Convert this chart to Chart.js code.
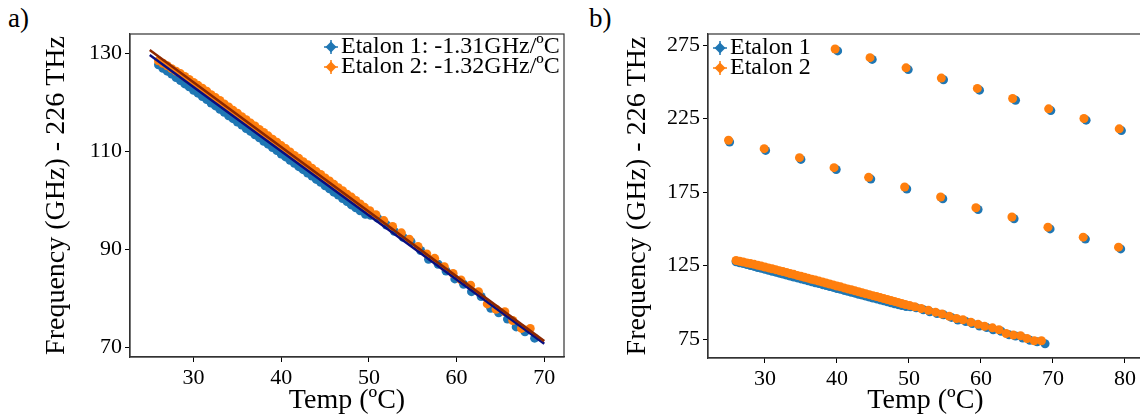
<!DOCTYPE html>
<html>
<head>
<meta charset="utf-8">
<script src="https://cdn.jsdelivr.net/npm/chart.js@4.4.0/dist/chart.umd.min.js"></script>
<style>
  html, body { margin: 0; padding: 0; background: #fff; overflow: hidden; width: 1140px; height: 417px; }
  .panel { position: absolute; top: 0; }
  .tag { position: absolute; top: 4px; font: 27px "Liberation Serif", "Times New Roman", serif; color: #000; line-height: 28px; }
</style>
</head>
<body>
<div class="tag" style="left:8px">a)</div>
<div class="tag" style="left:589px">b)</div>
<div class="panel" style="left:0;width:570px;height:417px"><canvas id="chartA" width="570" height="417"></canvas></div>
<div class="panel" style="left:570px;width:600px;height:417px"><canvas id="chartB" width="600" height="417"></canvas></div>
<script>
// main mode, etalon 1 (dense scan, then sparse points)
const e1Temp = [26.0, 26.5, 27.0, 27.5, 28.0, 28.5, 29.0, 29.5, 30.0, 30.5, 31.0, 31.5, 32.0, 32.5,
  33.0, 33.5, 34.0, 34.5, 35.0, 35.5, 36.0, 36.5, 37.0, 37.5, 38.0, 38.5, 39.0, 39.5, 40.0, 40.5,
  41.0, 41.5, 42.0, 42.5, 43.0, 43.5, 44.0, 44.5, 45.0, 45.5, 46.0, 46.5, 47.0, 47.5, 48.0, 48.5, 49.0, 49.6, 50.2,
  51.0, 52.0, 52.9, 53.9, 54.8, 55.9, 56.8, 57.9, 58.8, 59.8, 60.8, 61.7, 62.8, 63.9, 64.8, 65.8, 66.8, 67.8, 68.9];
const e1Freq = [127.6, 126.9, 126.3, 125.7, 125.0, 124.4, 123.7, 123.1, 122.4, 121.8, 121.1, 120.5, 119.8, 119.2,
  118.5, 117.9, 117.2, 116.6, 115.9, 115.3, 114.6, 114.0, 113.3, 112.7, 112.0, 111.4, 110.7, 110.1, 109.4, 108.8,
  108.1, 107.5, 106.8, 106.2, 105.5, 104.9, 104.2, 103.6, 102.9, 102.3, 101.6, 101.0, 100.3, 99.7, 99.0, 98.4, 97.8, 97.1, 96.9,
  96.3, 94.9, 93.6, 92.4, 91.5, 89.7, 87.9, 86.9, 85.5, 83.9, 82.8, 81.3, 80.3, 77.9, 77.0, 75.7, 74.1, 73.1, 71.8];

// main mode, etalon 2
const e2Temp = [26.0, 26.5, 27.0, 27.5, 28.0, 28.5, 29.0, 29.5, 30.0, 30.5, 31.0, 31.5, 32.0, 32.5,
  33.0, 33.5, 34.0, 34.5, 35.0, 35.5, 36.0, 36.5, 37.0, 37.5, 38.0, 38.5, 39.0, 39.5, 40.0, 40.5,
  41.0, 41.5, 42.0, 42.5, 43.0, 43.5, 44.0, 44.5, 45.0, 45.5, 46.0, 46.5, 47.0, 47.5, 48.0, 48.5, 49.0, 49.5, 50.1,
  50.8, 51.7, 52.7, 53.7, 54.6, 55.6, 56.6, 57.5, 58.6, 59.6, 60.5, 61.6, 62.5, 63.5, 64.5, 65.5, 66.4, 67.4, 68.4];
const e2Freq = [128.4, 127.9, 127.4, 126.8, 126.3, 125.8, 125.2, 124.6, 124.0, 123.4, 122.8, 122.2, 121.5, 120.9,
  120.3, 119.6, 119.0, 118.3, 117.7, 117.0, 116.4, 115.7, 115.1, 114.4, 113.8, 113.1, 112.4, 111.8, 111.1, 110.5,
  109.8, 109.1, 108.5, 107.8, 107.2, 106.5, 105.8, 105.2, 104.5, 103.9, 103.2, 102.5, 101.9, 101.2, 100.6, 99.9, 99.2, 98.5, 97.8,
  97.0, 95.8, 94.6, 93.3, 92.0, 90.5, 89.0, 88.1, 86.4, 85.0, 83.7, 82.6, 81.3, 78.8, 77.7, 77.2, 75.4, 73.8, 73.8];

// linear fits (panel a)
const fitTemp = [25, 70];
const fit1 = [129.6, 70.65];
const fit2 = [130.6, 71.2];

// other modes (panel b)
const mid1Temp = [25.1, 30.1, 35.0, 39.9, 44.7, 49.7, 54.7, 59.6, 64.6, 69.6, 74.5, 79.4];
const mid1Freq = [209.0, 203.3, 197.2, 190.3, 183.8, 177.1, 170.4, 163.1, 156.8, 149.9, 143.0, 136.3];
const mid2Temp = [24.95, 29.9, 34.8, 39.6, 44.4, 49.4, 54.4, 59.3, 64.3, 69.3, 74.2, 79.1];
const mid2Freq = [210.2, 204.5, 198.4, 191.6, 185.0, 178.4, 171.6, 164.3, 158.0, 151.1, 144.3, 137.5];
const top1Temp = [40.1, 44.9, 49.9, 54.8, 59.8, 64.8, 69.7, 74.6, 79.5];
const top1Freq = [271.0, 265.2, 258.3, 251.4, 244.3, 237.4, 230.4, 223.9, 216.8];
const top2Temp = [39.75, 44.6, 49.6, 54.5, 59.5, 64.4, 69.4, 74.3, 79.2];
const top2Freq = [272.3, 266.4, 259.5, 252.5, 245.5, 238.6, 231.6, 225.0, 218.0];

const xTicksA = [30, 40, 50, 60, 70];
const yTicksA = [70, 90, 110, 130];
const xTicksB = [30, 40, 50, 60, 70, 80];
const yTicksB = [75, 125, 175, 225, 275];

const BLUE = "#1f77b4";
const ORANGE = "#ff7f0e";
const SERIF = '"Liberation Serif", "Times New Roman", serif';

const pts = (xs, ys) => xs.map((x, i) => ({ x, y: ys[i] }));

const framePlugin = {
  id: "frame",
  afterDatasetsDraw(chart) {
    const { ctx, chartArea: a } = chart;
    ctx.save();
    ctx.strokeStyle = "#333";
    ctx.lineWidth = 1.2;
    ctx.strokeRect(a.left, a.top, a.right - a.left, a.bottom - a.top);
    ctx.restore();
  },
};

function drawMarker(ctx, x, y, color) {
  ctx.fillStyle = color;
  ctx.strokeStyle = color;
  ctx.beginPath();
  ctx.moveTo(x, y - 5.5);
  ctx.lineTo(x + 5.5, y);
  ctx.lineTo(x, y + 5.5);
  ctx.lineTo(x - 5.5, y);
  ctx.closePath();
  ctx.fill();
  ctx.lineWidth = 1.5;
  ctx.beginPath();
  ctx.moveTo(x - 7, y);
  ctx.lineTo(x + 7, y);
  ctx.moveTo(x, y - 7);
  ctx.lineTo(x, y + 7);
  ctx.stroke();
}

const legendPlugin = {
  id: "cornerLegend",
  afterDraw(chart, args, opts) {
    const ctx = chart.ctx;
    ctx.save();
    ctx.font = `24px ${SERIF}`;
    ctx.textBaseline = "middle";
    ctx.textAlign = "left";
    opts.items.forEach((item, i) => {
      const y = opts.y + i * opts.gap;
      drawMarker(ctx, opts.x, y, item.color);
      ctx.fillStyle = "#000";
      ctx.fillText(item.text, opts.x + 10, y);
    });
    ctx.restore();
  },
};

function axis(min, max, ticks, title, fit, titlePad) {
  return {
    type: "linear",
    min,
    max,
    afterBuildTicks: (s) => { s.ticks = ticks.map((v) => ({ value: v })); },
    afterFit: fit,
    grid: { display: true, drawOnChartArea: false, drawTicks: true, tickLength: 5, color: "#000" },
    border: { display: true, color: "#333", width: 1.2 },
    ticks: { color: "#000", font: { family: SERIF, size: 22 }, padding: 3, maxRotation: 0 },
    title: { display: true, text: title, color: "#000", font: { family: SERIF, size: 28 }, padding: titlePad },
  };
}

const scatter = (label, data, color, order) => ({
  label, data, order,
  backgroundColor: color,
  pointRadius: 4.5,
  pointBorderWidth: 0,
  pointHoverRadius: 4.5,
});

function drawCharts() {
  new Chart(document.getElementById("chartA"), {
    type: "scatter",
    data: {
      datasets: [
        scatter("Etalon 1", pts(e1Temp, e1Freq), BLUE, 3),
        scatter("Etalon 2", pts(e2Temp, e2Freq), ORANGE, 2),
        { type: "line", label: "fit 1", data: pts(fitTemp, fit1), borderColor: "#0a0f80", borderWidth: 2.5, pointRadius: 0, order: 1 },
        { type: "line", label: "fit 2", data: pts(fitTemp, fit2), borderColor: "#8c2800", borderWidth: 2.5, pointRadius: 0, order: 0 },
      ],
    },
    options: {
      responsive: false,
      animation: false,
      events: [],
      layout: { padding: { left: 0, right: 6, top: 34, bottom: 0 } },
      scales: {
        x: axis(22.75, 72.25, xTicksA, "Temp (ºC)", (s) => { s.height = 60; }, { top: 0, bottom: 0 }),
        y: axis(67.96, 133.88, yTicksA, "Frequency (GHz) - 226 THz", (s) => { s.width = 130; }, { top: 40, bottom: 0 }),
      },
      plugins: {
        legend: { display: false },
        tooltip: { enabled: false },
        cornerLegend: {
          x: 331, y: 47, gap: 20,
          items: [
            { text: "Etalon 1: -1.31GHz/ºC", color: BLUE },
            { text: "Etalon 2: -1.32GHz/ºC", color: ORANGE },
          ],
        },
      },
    },
    plugins: [framePlugin, legendPlugin],
  });

  new Chart(document.getElementById("chartB"), {
    type: "scatter",
    data: {
      datasets: [
        scatter("Etalon 1", pts(e1Temp, e1Freq).concat(pts(mid1Temp, mid1Freq), pts(top1Temp, top1Freq)), BLUE, 1),
        scatter("Etalon 2", pts(e2Temp, e2Freq).concat(pts(mid2Temp, mid2Freq), pts(top2Temp, top2Freq)), ORANGE, 0),
      ],
    },
    options: {
      responsive: false,
      animation: false,
      events: [],
      layout: { padding: { left: 0, right: 27, top: 34, bottom: 0 } },
      scales: {
        x: axis(22.1, 82.5, xTicksB, "Temp (ºC)", (s) => { s.height = 59; }, { top: 0, bottom: 0 }),
        y: axis(62.1, 282.5, yTicksB, "Frequency (GHz) - 226 THz", (s) => { s.width = 138; }, { top: 51, bottom: 0 }),
      },
      plugins: {
        legend: { display: false },
        tooltip: { enabled: false },
        cornerLegend: {
          x: 150, y: 48, gap: 20,
          items: [
            { text: "Etalon 1", color: BLUE },
            { text: "Etalon 2", color: ORANGE },
          ],
        },
      },
    },
    plugins: [framePlugin, legendPlugin],
  });
}

document.fonts.load('22px "Liberation Serif"').then(drawCharts, drawCharts);
</script>
</body>
</html>
